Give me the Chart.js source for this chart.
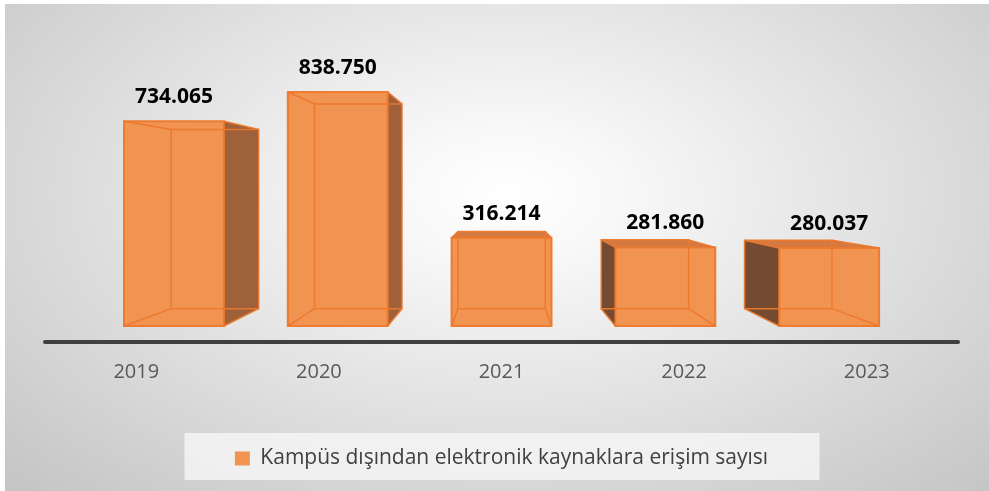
<!DOCTYPE html>
<html>
<head>
<meta charset="utf-8">
<script src="https://cdn.jsdelivr.net/npm/chart.js@4.4.1/dist/chart.umd.min.js"></script>
<style>
  html, body { margin: 0; padding: 0; background: #fff; }
  #wrap {
    position: absolute; left: 5px; top: 4px; width: 984px; height: 487px;
    background: radial-gradient(ellipse farthest-corner at 51% 39%, #ffffff 0%, #f8f8f8 16%, #c4c4c4 100%);
  }
  canvas { display: block; }
</style>
</head>
<body>
<div id="wrap"><canvas id="chart" width="984" height="487"></canvas></div>
<script>
const years = ['2019', '2020', '2021', '2022', '2023'];
const accessCounts = [734065, 838750, 316214, 281860, 280037];
const seriesLabel = 'Kampüs dışından elektronik kaynaklara erişim sayısı';
const yMax = 1000000;

// fake perspective: eye point + how much the front / back face shrink toward it
const VP = { x: 497, y: 183 };
const FRONT = 0.897;
const BACK = FRONT * 0.875;

const FONT = '"Open Sans", "DejaVu Sans", sans-serif';

function fmt(n) {
    return String(n).replace(/\B(?=(\d{3})+(?!\d))/g, '.');
}

function proj(x, y, k) {
    return [VP.x + (x - VP.x) * k, VP.y + (y - VP.y) * k];
}

function fillPoly(ctx, pts, color) {
    ctx.beginPath();
    pts.forEach((p, i) => i ? ctx.lineTo(p[0], p[1]) : ctx.moveTo(p[0], p[1]));
    ctx.closePath();
    ctx.fillStyle = color;
    ctx.fill();
}

function strokePoly(ctx, pts, close) {
    ctx.beginPath();
    pts.forEach((p, i) => i ? ctx.lineTo(p[0], p[1]) : ctx.moveTo(p[0], p[1]));
    if (close) ctx.closePath();
    ctx.stroke();
}

const boxes3d = {
    id: 'boxes3d',
    beforeDraw(chart) {
        // light panel behind the legend
        const lg = chart.legend;
        const cx = lg.left + lg.width / 2;
        chart.ctx.save();
        chart.ctx.fillStyle = 'rgba(244,244,244,0.85)';
        chart.ctx.fillRect(cx - 317, lg.top - 5, 635, 47);
        chart.ctx.restore();
    },
    beforeDatasetsDraw(chart) {
        const ctx = chart.ctx;
        const xs = chart.scales.x;
        ctx.save();

        // axis line
        ctx.strokeStyle = '#404040';
        ctx.lineWidth = 4;
        ctx.lineCap = 'round';
        ctx.beginPath();
        ctx.moveTo(xs.left, xs.top);
        ctx.lineTo(xs.right, xs.top);
        ctx.stroke();
        ctx.lineCap = 'butt';

        const meta = chart.getDatasetMeta(0);
        meta.data.forEach((bar, i) => {
            const { x, y, base, width } = bar.getProps(['x', 'y', 'base', 'width'], true);
            const l = x - width / 2, r = x + width / 2;
            const f = [proj(l, y, FRONT), proj(r, y, FRONT), proj(r, base, FRONT), proj(l, base, FRONT)];
            const b = [proj(l, y, BACK), proj(r, y, BACK), proj(r, base, BACK), proj(l, base, BACK)];

            if (f[1][0] < VP.x) {
                fillPoly(ctx, [f[1], b[1], b[2], f[2]], '#9f6139');
            } else if (f[0][0] > VP.x) {
                fillPoly(ctx, [f[0], b[0], b[3], f[3]], '#744b31');
            }
            if (f[0][1] > VP.y) {
                fillPoly(ctx, [f[0], f[1], b[1], b[0]], '#d47a41');
            }
            fillPoly(ctx, f, '#f19452');

            // edges
            ctx.strokeStyle = 'rgba(236,120,44,0.95)';
            ctx.lineWidth = 1.5;
            strokePoly(ctx, b, true);
            for (let k = 0; k < 4; k++) strokePoly(ctx, [f[k], b[k]]);
            ctx.lineWidth = 2;
            strokePoly(ctx, f, true);

            // value label
            ctx.fillStyle = '#000';
            ctx.font = 'bold 21px ' + FONT;
            ctx.textAlign = 'center';
            ctx.textBaseline = 'middle';
            ctx.fillText(fmt(accessCounts[i]), (f[0][0] + f[1][0]) / 2, f[0][1] - 24);
        });

        ctx.restore();
        return false;
    }
};

new Chart(document.getElementById('chart'), {
    type: 'bar',
    data: {
        labels: years,
        datasets: [{
            label: seriesLabel,
            data: accessCounts,
            backgroundColor: '#f19452',
            borderWidth: 0,
            categoryPercentage: 1,
            barPercentage: 0.61
        }]
    },
    options: {
        responsive: false,
        devicePixelRatio: 1,
        animation: false,
        layout: { padding: { left: 40, right: 31, top: 27, bottom: 12 } },
        plugins: {
            legend: {
                position: 'bottom',
                labels: {
                    boxWidth: 15,
                    boxHeight: 14,
                    color: '#404040',
                    font: { family: FONT, size: 21 }
                }
            },
            tooltip: { enabled: false }
        },
        scales: {
            x: {
                grid: { display: false },
                border: { display: false },
                ticks: { color: '#595959', padding: 10, font: { family: FONT, size: 20 } },
                afterFit(scale) { scale.height = 96; }
            },
            y: {
                display: false,
                min: 0,
                max: yMax
            }
        }
    },
    plugins: [boxes3d]
});
</script>
</body>
</html>
